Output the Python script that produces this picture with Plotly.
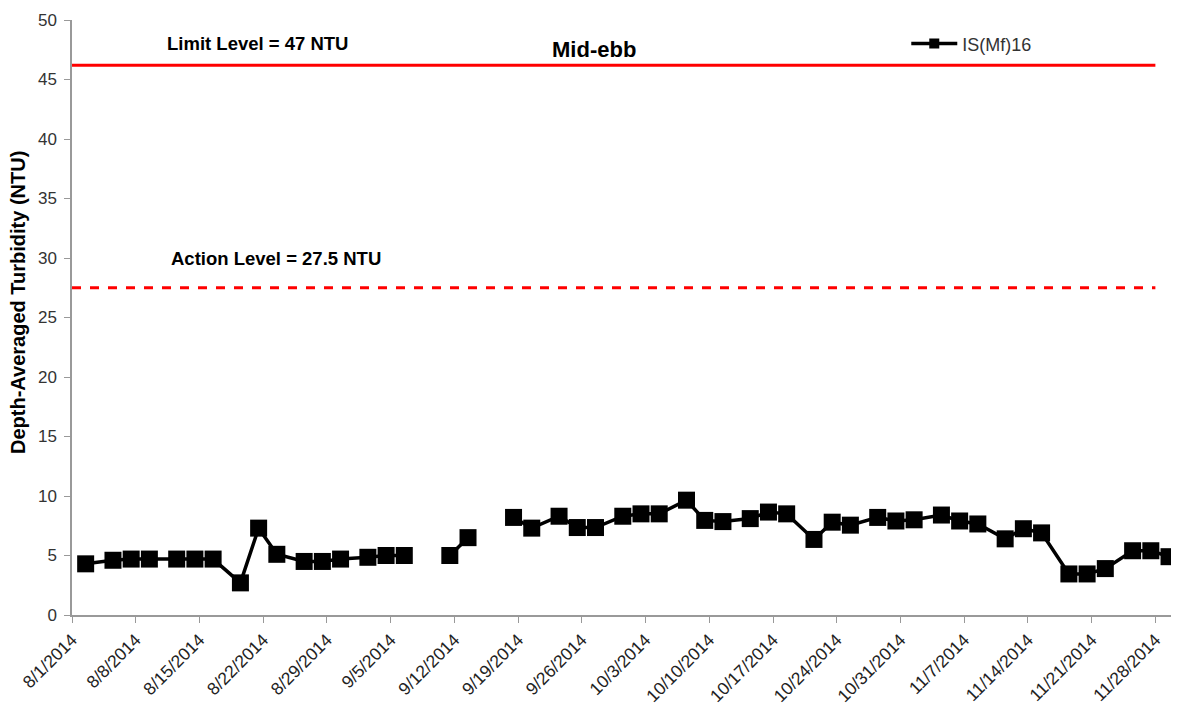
import pandas as pd
import plotly.graph_objects as go

dates = ["2014-08-02", "2014-08-05", "2014-08-07", "2014-08-09", "2014-08-12", "2014-08-14",
         "2014-08-16", "2014-08-19", "2014-08-21", "2014-08-23", "2014-08-26", "2014-08-28",
         "2014-08-30", "2014-09-02", "2014-09-04", "2014-09-06", "2014-09-09", "2014-09-11",
         "2014-09-13", "2014-09-16", "2014-09-18", "2014-09-20", "2014-09-23", "2014-09-25",
         "2014-09-27", "2014-09-30", "2014-10-02", "2014-10-04", "2014-10-07", "2014-10-09",
         "2014-10-11", "2014-10-14", "2014-10-16", "2014-10-18", "2014-10-21", "2014-10-23",
         "2014-10-25", "2014-10-28", "2014-10-30", "2014-11-01", "2014-11-04", "2014-11-06",
         "2014-11-08", "2014-11-11", "2014-11-13", "2014-11-15", "2014-11-18", "2014-11-20",
         "2014-11-22", "2014-11-25", "2014-11-27", "2014-11-29"]
turbidity = [4.3, 4.6, 4.7, 4.7, 4.7, 4.7,
             4.7, 2.7, 7.3, 5.1, 4.5, 4.5,
             4.7, 4.85, 5.0, 5.0, None, 5.0,
             6.5, None, 8.2, 7.3, 8.3, 7.35,
             7.35, 8.3, 8.5, 8.5, 9.65, 7.95,
             7.85, 8.1, 8.65, 8.5, 6.35, 7.8,
             7.55, 8.2, 7.9, 8.0, 8.4, 7.9,
             7.65, 6.4, 7.25, 6.9, 3.45, 3.45,
             3.9, 5.4, 5.4, 4.9]

limit_level = 46.2
action_level = 27.5
level_span = ["2014-08-01", "2014-11-28"]

tick_dates = pd.date_range("2014-08-01", "2014-11-28", freq="7D")
tick_labels = [f"{d.month}/{d.day}/{d.year}" for d in tick_dates]

font = "Arial, 'Liberation Sans', sans-serif"
x_pts = pd.to_datetime(dates) + pd.Timedelta(hours=12)

fig = go.Figure()
fig.add_trace(go.Scatter(x=pd.to_datetime(level_span), y=[limit_level] * 2, mode="lines",
                         line=dict(color="#ff0000", width=3), showlegend=False, hoverinfo="skip"))
fig.add_trace(go.Scatter(x=pd.to_datetime(level_span), y=[action_level] * 2, mode="lines",
                         line=dict(color="#ff0000", width=3, dash="dash"), showlegend=False,
                         hoverinfo="skip"))
fig.add_trace(go.Scatter(x=x_pts, y=turbidity, mode="lines+markers", name="IS(Mf)16",
                         connectgaps=False, showlegend=False,
                         line=dict(color="black", width=3.5),
                         marker=dict(symbol="square", size=17, color="black")))
# legend-only entry with the smaller legend glyph
fig.add_trace(go.Scatter(x=[None], y=[None], mode="lines+markers", name="IS(Mf)16",
                         line=dict(color="black", width=3.5),
                         marker=dict(symbol="square", size=10, color="black")))

fig.add_annotation(x=0.168, y=48.0, xref="paper", yref="y", xanchor="center",
                   text="<b>Limit Level = 47 NTU</b>",
                   showarrow=False, font=dict(family=font, size=18.5, color="black"))
fig.add_annotation(x=0.185, y=30.0, xref="paper", yref="y", xanchor="center",
                   text="<b>Action Level = 27.5 NTU</b>",
                   showarrow=False, font=dict(family=font, size=18.5, color="black"))
fig.add_annotation(x=0.472, y=47.5, xref="paper", yref="y", xanchor="center",
                   text="<b>Mid-ebb</b>",
                   showarrow=False, font=dict(family=font, size=22, color="black"))
# y-axis title
fig.add_annotation(x=-0.0489, y=26.3, xref="paper", yref="y", xanchor="center", yanchor="middle",
                   text="<b>Depth-Averaged Turbidity (NTU)</b>", textangle=-90,
                   showarrow=False, font=dict(family=font, size=20, color="black"))

# page body adds an 8px offset, so the figure is sized to fit the remaining window
fig.update_layout(
    width=1171, height=697,
    margin=dict(l=64, r=2, t=12, b=90, autoexpand=False),
    plot_bgcolor="white", paper_bgcolor="white",
    font=dict(family=font, color="#333333"),
    legend=dict(x=0.755, y=0.96, xanchor="left", yanchor="middle", bgcolor="rgba(0,0,0,0)",
                font=dict(family=font, size=18, color="#333333"), itemwidth=46),
    showlegend=True,
)
fig.update_xaxes(
    range=[pd.Timestamp("2014-08-01"), pd.Timestamp("2014-11-30 09:00")],
    tickvals=tick_dates, ticktext=tick_labels, tickangle=-45, automargin=False,
    tickfont=dict(family=font, size=17.5, color="#222222"), ticklabelstandoff=0,
    showgrid=False, zeroline=False, showline=True, linecolor="#999999", linewidth=1.5,
    ticks="outside", ticklen=6, tickcolor="#999999",
)
fig.update_yaxes(
    range=[0, 50], tickvals=list(range(0, 51, 5)), automargin=False,
    tickfont=dict(family=font, size=17, color="#333333"), ticklabelstandoff=4,
    showgrid=False, zeroline=False, showline=True, linecolor="#999999", linewidth=1.5,
    ticks="outside", ticklen=6, tickcolor="#999999",
)

fig.write_html("out.html")
